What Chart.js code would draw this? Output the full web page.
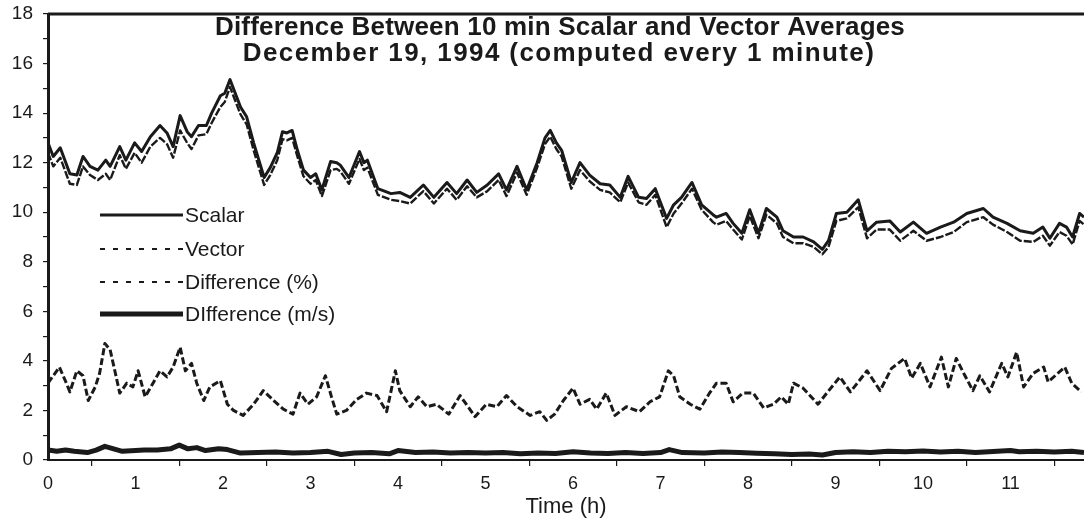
<!DOCTYPE html>
<html>
<head>
<meta charset="utf-8">
<script src="https://cdn.jsdelivr.net/npm/chart.js@4.4.1/dist/chart.umd.min.js"></script>
<style>
  html, body { margin: 0; padding: 0; background: #fff; }
  #wrap { width: 1084px; height: 522px; }
</style>
</head>
<body>
<div id="wrap"><canvas id="chart"></canvas></div>
<script>
// ── DATA ────────────────────────────────────────────────────
const scalarHours = [
  0.00, 0.06, 0.14, 0.25, 0.33, 0.40, 0.48, 0.57, 0.66, 0.71, 0.82, 0.89, 0.99, 1.07, 1.17, 1.28,
  1.36, 1.43, 1.51, 1.59, 1.64, 1.72, 1.81, 1.87, 1.97, 2.02, 2.08, 2.14, 2.20, 2.27, 2.35, 2.47,
  2.54, 2.62, 2.68, 2.73, 2.79, 2.85, 2.92, 3.00, 3.06, 3.13, 3.23, 3.30, 3.34, 3.44, 3.56, 3.61,
  3.65, 3.77, 3.92, 4.02, 4.14, 4.29, 4.41, 4.56, 4.67, 4.79, 4.90, 5.02, 5.15, 5.24, 5.36, 5.47,
  5.59, 5.68, 5.74, 5.81, 5.87, 5.98, 6.08, 6.19, 6.31, 6.42, 6.54, 6.63, 6.75, 6.84, 6.94, 7.07,
  7.15, 7.24, 7.36, 7.47, 7.60, 7.64, 7.75, 7.83, 7.93, 8.02, 8.12, 8.21, 8.33, 8.40, 8.52, 8.63,
  8.75, 8.85, 8.92, 9.01, 9.13, 9.26, 9.36, 9.47, 9.62, 9.74, 9.89, 10.04, 10.20, 10.35, 10.50, 10.69,
  10.80, 10.96, 11.11, 11.26, 11.37, 11.45, 11.56, 11.64, 11.71, 11.79, 11.84
];
const scalarValues = [
  12.8, 12.25, 12.6, 11.55, 11.5, 12.25, 11.85, 11.7, 12.1, 11.85, 12.65, 12.1, 12.8, 12.45, 13.05, 13.5,
  13.2, 12.65, 13.9, 13.25, 13.05, 13.5, 13.5, 14.0, 14.7, 14.8, 15.35, 14.8, 14.25, 13.85, 12.8, 11.4,
  11.8, 12.4, 13.25, 13.2, 13.3, 12.5, 11.7, 11.4, 11.55, 10.9, 12.05, 12.0, 11.9, 11.4, 12.45, 12.0,
  12.1, 10.95, 10.75, 10.8, 10.6, 11.1, 10.6, 11.2, 10.75, 11.3, 10.8, 11.1, 11.55, 10.9, 11.85, 10.9,
  12.0, 13.0, 13.3, 12.8, 12.5, 11.2, 12.0, 11.5, 11.15, 11.1, 10.6, 11.45, 10.6, 10.55, 10.95, 9.75,
  10.3, 10.6, 11.2, 10.3, 9.9, 9.8, 9.95, 9.55, 9.15, 10.1, 9.15, 10.15, 9.8, 9.25, 9.0, 9.0,
  8.8, 8.5, 8.85, 9.95, 10.0, 10.5, 9.25, 9.6, 9.65, 9.2, 9.6, 9.15, 9.4, 9.6, 9.95, 10.15,
  9.8, 9.55, 9.25, 9.15, 9.4, 8.95, 9.55, 9.4, 9.0, 9.95, 9.8
];
const vectorValues = [
  12.4, 11.85, 12.2, 11.15, 11.1, 11.85, 11.5, 11.3, 11.55, 11.3, 12.3, 11.75, 12.4, 12.0, 12.65, 13.0,
  12.75, 12.2, 13.3, 12.8, 12.55, 13.1, 13.15, 13.6, 14.25, 14.45, 15.05, 14.5, 13.95, 13.55, 12.5, 11.1,
  11.5, 12.1, 12.95, 12.9, 13.0, 12.25, 11.45, 11.15, 11.3, 10.65, 11.7, 11.75, 11.65, 11.15, 12.15, 11.7,
  11.8, 10.7, 10.5, 10.45, 10.35, 10.85, 10.35, 10.95, 10.5, 11.05, 10.6, 10.85, 11.3, 10.65, 11.6, 10.7,
  11.8, 12.75, 13.05, 12.55, 12.25, 10.95, 11.7, 11.25, 10.9, 10.8, 10.4, 11.2, 10.4, 10.3, 10.7, 9.4,
  9.95, 10.35, 10.95, 10.1, 9.6, 9.5, 9.65, 9.3, 8.9, 9.85, 8.95, 9.9, 9.55, 9.0, 8.75, 8.75,
  8.6, 8.3, 8.6, 9.65, 9.75, 10.2, 8.95, 9.3, 9.3, 8.85, 9.25, 8.85, 9.0, 9.2, 9.6, 9.8,
  9.5, 9.2, 8.85, 8.8, 9.05, 8.65, 9.2, 9.05, 8.7, 9.65, 9.5
];
const pctHours = [
  0.00, 0.08, 0.13, 0.21, 0.25, 0.33, 0.40, 0.46, 0.54, 0.59, 0.65, 0.71, 0.77, 0.82, 0.90, 0.97,
  1.03, 1.11, 1.20, 1.28, 1.36, 1.43, 1.51, 1.57, 1.64, 1.70, 1.78, 1.85, 1.97, 2.05, 2.12, 2.23,
  2.35, 2.46, 2.58, 2.69, 2.80, 2.88, 2.97, 3.07, 3.17, 3.24, 3.30, 3.41, 3.53, 3.64, 3.76, 3.87,
  3.97, 4.02, 4.14, 4.23, 4.33, 4.44, 4.58, 4.71, 4.88, 5.01, 5.13, 5.24, 5.36, 5.51, 5.62, 5.70,
  5.79, 5.89, 6.00, 6.08, 6.19, 6.27, 6.38, 6.48, 6.61, 6.76, 6.88, 6.99, 7.09, 7.15, 7.22, 7.34,
  7.45, 7.56, 7.64, 7.75, 7.83, 7.94, 8.06, 8.18, 8.29, 8.38, 8.46, 8.52, 8.63, 8.80, 8.90, 9.05,
  9.17, 9.26, 9.36, 9.51, 9.64, 9.79, 9.87, 9.97, 10.08, 10.21, 10.29, 10.38, 10.48, 10.57, 10.65, 10.76,
  10.90, 10.97, 11.07, 11.15, 11.26, 11.38, 11.43, 11.62, 11.70, 11.81
];
const pctValues = [
  3.1, 3.5, 3.75, 3.1, 2.75, 3.6, 3.4, 2.4, 2.95, 3.5, 4.7, 4.45, 3.5, 2.7, 3.1, 2.95,
  3.6, 2.55, 3.1, 3.6, 3.35, 3.75, 4.55, 3.6, 3.9, 3.1, 2.4, 2.95, 3.2, 2.25, 2.0, 1.8,
  2.25, 2.8, 2.4, 2.05, 1.85, 2.7, 2.25, 2.55, 3.4, 2.55, 1.85, 2.0, 2.45, 2.7, 2.6, 1.95,
  3.6, 2.8, 2.15, 2.55, 2.15, 2.25, 1.85, 2.6, 1.75, 2.25, 2.15, 2.6, 2.15, 1.8, 1.95, 1.6,
  1.85, 2.4, 2.9, 2.25, 2.45, 2.05, 2.7, 1.8, 2.15, 1.95, 2.35, 2.55, 3.6, 3.4, 2.55, 2.25,
  2.05, 2.7, 3.1, 3.1, 2.35, 2.7, 2.7, 2.1, 2.25, 2.55, 2.25, 3.1, 2.9, 2.25, 2.7, 3.35,
  2.75, 3.15, 3.6, 2.8, 3.7, 4.1, 3.3, 3.9, 2.95, 4.15, 2.95, 4.1, 3.4, 2.8, 3.4, 2.75,
  3.9, 3.35, 4.35, 2.95, 3.5, 3.75, 3.15, 3.75, 3.1, 2.75
];
const msHours = [
  0.00, 0.10, 0.20, 0.30, 0.45, 0.55, 0.65, 0.75, 0.85, 1.00, 1.10, 1.25, 1.40, 1.50, 1.60, 1.70,
  1.80, 1.95, 2.05, 2.20, 2.40, 2.60, 2.80, 3.00, 3.20, 3.35, 3.50, 3.70, 3.90, 4.00, 4.20, 4.40,
  4.60, 4.80, 5.00, 5.20, 5.40, 5.60, 5.80, 6.00, 6.20, 6.40, 6.60, 6.80, 7.00, 7.10, 7.25, 7.50,
  7.70, 7.90, 8.10, 8.30, 8.50, 8.70, 8.85, 9.00, 9.20, 9.40, 9.60, 9.80, 10.00, 10.20, 10.40, 10.60,
  10.80, 11.00, 11.10, 11.30, 11.50, 11.70, 11.84
];
const msValues = [
  0.4, 0.35, 0.4, 0.35, 0.3, 0.4, 0.55, 0.45, 0.35, 0.38, 0.4, 0.4, 0.45, 0.6, 0.45, 0.5,
  0.38, 0.45, 0.42, 0.28, 0.3, 0.32, 0.28, 0.3, 0.35, 0.22, 0.28, 0.3, 0.25, 0.38, 0.3, 0.32,
  0.28, 0.3, 0.28, 0.3, 0.25, 0.28, 0.26, 0.33, 0.28, 0.26, 0.3, 0.26, 0.3, 0.42, 0.3, 0.28,
  0.32, 0.3, 0.27, 0.25, 0.22, 0.24, 0.2, 0.3, 0.33, 0.3, 0.35, 0.33, 0.36, 0.32, 0.35, 0.3,
  0.34, 0.38, 0.33, 0.35, 0.32, 0.35, 0.3
];
const legendLabels = ['Scalar', 'Vector', 'Difference (%)', 'DIfference (m/s)'];
const titleLines = [
  'Difference Between 10 min Scalar and Vector Averages',
  'December 19, 1994 (computed every 1 minute)',
];
const xAxisTitle = 'Time (h)';

// ── STYLE ───────────────────────────────────────────────────
const INK = '#1a1a1a';
const FONT = '"Liberation Sans", Arial, sans-serif';
// plot line styles, then the legend sample styles
const STYLES = [
  { width: 3,   dash: [],     key: [] },
  { width: 2.4, dash: [8, 2], key: [5, 8] },
  { width: 3,   dash: [7, 3], key: [5, 8] },
  { width: 5,   dash: [],     key: [] },
];

function pts(xs, ys) { return xs.map((x, i) => ({ x, y: ys[i] })); }

// ── PLUGIN: title + legend inside the plot, top frame line ──
const overlay = {
  id: 'overlay',
  afterDraw(chart) {
    const { ctx, chartArea: a } = chart;
    ctx.save();
    ctx.strokeStyle = INK;
    ctx.lineWidth = 3;
    ctx.beginPath();
    ctx.moveTo(a.left, a.top);
    ctx.lineTo(a.right, a.top);
    ctx.stroke();

    ctx.fillStyle = INK;
    ctx.textAlign = 'center';
    ctx.textBaseline = 'middle';
    ctx.font = `bold 26px ${FONT}`;
    ctx.letterSpacing = '0.2px';
    ctx.fillText(titleLines[0], 560, 28);
    ctx.letterSpacing = '1.4px';
    ctx.fillText(titleLines[1], 559, 54);
    ctx.letterSpacing = '0px';

    ctx.font = `21px ${FONT}`;
    ctx.textAlign = 'left';
    const rows = [215, 249, 282, 314];
    legendLabels.forEach((lab, i) => {
      const y = rows[i];
      ctx.lineWidth = i === 0 ? 3 : (i === 3 ? 5 : 2);
      ctx.setLineDash(STYLES[i].key);
      ctx.beginPath();
      ctx.moveTo(100, y);
      ctx.lineTo(183, y);
      ctx.stroke();
      ctx.setLineDash([]);
      ctx.fillText(lab, 185, y + 1);
    });
    ctx.restore();
  },
};

const datasets = [
  pts(scalarHours, scalarValues),
  pts(scalarHours, vectorValues),
  pts(pctHours, pctValues),
  pts(msHours, msValues),
].map((data, i) => ({
  label: legendLabels[i],
  data,
  borderColor: INK,
  borderWidth: STYLES[i].width,
  borderDash: STYLES[i].dash,
  borderJoinStyle: 'round',
  pointRadius: 0,
  tension: 0,
  fill: false,
}));

new Chart(document.getElementById('chart'), {
  type: 'line',
  data: { datasets },
  plugins: [overlay],
  options: {
    responsive: true,
    maintainAspectRatio: false,
    animation: false,
    layout: { padding: { top: 14, right: 0, left: 0, bottom: 0 } },
    plugins: { legend: { display: false }, tooltip: { enabled: false } },
    scales: {
      x: {
        type: 'linear',
        min: 0,
        max: 11.84,
        afterBuildTicks(scale) {
          const t = [];
          for (let v = 0; v <= 11.5; v += 0.5) t.push({ value: v });
          scale.ticks = t;
        },
        afterFit(scale) {
          scale.height = 62;
          scale.paddingLeft = 0;
          scale.paddingRight = 0;
        },
        ticks: {
          autoSkip: false,
          maxRotation: 0,
          color: INK,
          padding: 7,
          font: { family: FONT, size: 18 },
          callback: v => (Number.isInteger(v) ? String(v) : ''),
        },
        grid: {
          drawOnChartArea: false,
          drawTicks: true,
          tickLength: 6,
          color: c => (c.tick && Number.isInteger(c.tick.value) ? 'rgba(0,0,0,0)' : INK),
          lineWidth: 1.2,
        },
        border: { color: INK, width: 2 },
        title: {
          display: true,
          text: xAxisTitle,
          color: INK,
          font: { family: FONT, size: 22 },
          padding: { top: 0, bottom: 2 },
        },
      },
      y: {
        min: 0,
        max: 18,
        afterFit(scale) {
          scale.width = 48;
          scale.paddingTop = 0;
          scale.paddingBottom = 0;
        },
        ticks: {
          stepSize: 1,
          autoSkip: false,
          color: INK,
          padding: 10,
          font: { family: FONT, size: 19 },
          callback: v => (v % 2 === 0 ? String(v) : ''),
        },
        grid: {
          drawOnChartArea: false,
          drawTicks: true,
          tickLength: 5,
          color: INK,
          lineWidth: 1.2,
        },
        border: { color: INK, width: 3 },
      },
    },
  },
});
</script>
</body>
</html>
